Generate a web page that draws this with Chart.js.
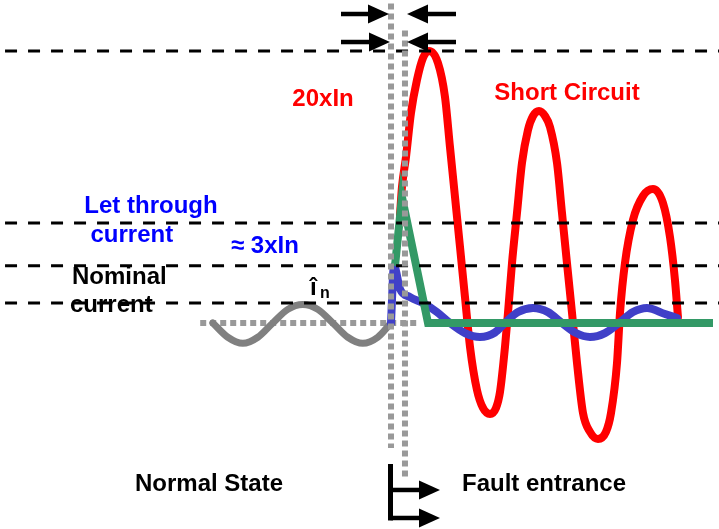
<!DOCTYPE html>
<html>
<head>
<meta charset="utf-8">
<script src="https://cdn.jsdelivr.net/npm/chart.js@4/dist/chart.umd.min.js"></script>
<style>
  html, body { margin: 0; padding: 0; background: #ffffff; }
  #wrap { width: 719px; height: 529px; position: relative; }
</style>
</head>
<body>
<div id="wrap"><canvas id="c"></canvas></div>
<script>
// Time in ms (fault begins at t = 0), current in multiples of In (schematic)

// Normal-state current before the fault
const normalT = [-29.7, -27.2, -24.7, -22.2, -19.7, -17.2, -14.7, -12.2, -9.7, -7.2, -4.7, -2.2, 0];
const normalI = [0, -1.05, -1.5, -1.05, 0, 1.0, 1.35, 1.0, 0, -1.05, -1.5, -1.05, 0];

// Prospective short-circuit current (its rise is hidden behind the let-through envelope)
const shortT = [1.5, 1.83, 2.5, 3.33, 4.33, 5.33, 6.33, 7.83, 9.0, 9.83, 10.67, 11.5,
                12.33, 13.17, 14.33, 15.33, 16.5, 17.5, 18.17, 19.0, 19.5, 20.17, 21.0, 21.83,
                22.83, 23.67, 24.67, 25.67, 26.5, 27.67, 28.5, 29.33, 30.17, 31.0, 32.0, 33.17,
                34.5, 35.83, 36.67, 37.67, 38.17, 39.0, 40.33, 42.0, 43.67, 45.33, 46.5, 47.33, 47.83];
const shortI = [7.94, 10.0, 12.21, 15.44, 17.87, 19.49, 20, 19.12, 16.62, 12.94, 9.26, 5.59,
                1.91, -1.76, -4.93, -6.25, -6.69, -6.25, -5.07, -1.76, 0.74, 4.41, 8.09, 11.76,
                14.19, 15.22, 15.59, 15.22, 14.41, 11.76, 8.09, 4.41, 0.74, -2.94, -6.62, -8.01,
                -8.53, -8.01, -6.62, -2.94, 0.74, 4.41, 7.57, 9.34, 9.85, 8.82, 6.32, 3.16, 0.44];

// Current actually let through by the protective device
const limitedT = [0, 0.5, 1.5, 3.17, 5.33, 7.67, 9.83, 12.33, 14.83, 17.33, 19.0, 21.17, 23.67, 26.17,
                  28.5, 30.83, 33.17, 35.67, 38.0, 40.33, 42.67, 45.67, 47.67];
const limitedI = [0, 4.2, 2.5, 1.9, 1.47, 0.8, 0, -0.74, -1.03, -0.7, 0, 0.8, 1.1, 0.8,
                  0, -0.74, -1.03, -0.74, 0, 0.8, 1.1, 0.66, 0.37];

// Envelope of the let-through current
const envelopeT = [0.67, 1.83, 6.17, 53.67];
const envelopeI = [4.2, 9.26, 0, 0];

// Reference current levels (dashed lines)
const levelValues = [20, 7.35, 4.2, 1.47];

// Fault instants (dotted verticals)
const faultT = [0, 2.33];

const RED = '#ff0000', BLUE_TXT = '#0000ff', BLUE = '#4040c8', GREEN = '#339966';
const GRAY = '#808080', DOT = '#999999';

const zip = (xs, ys) => xs.map((v, i) => ({ x: v, y: ys[i] }));

const X_MIN = -65.17, X_MAX = 54.67, Y_MIN = -15.15, Y_MAX = 23.75;

const datasets = [];

// vertical dotted fault markers (drawn on top)
datasets.push({
  data: [{ x: faultT[0], y: 23.5 }, { x: faultT[0], y: -9.2 }],
  borderColor: DOT, borderWidth: 6, borderDash: [6, 4], pointRadius: 0, showLine: true, tension: 0
});
datasets.push({
  data: [{ x: faultT[1], y: 21.5 }, { x: faultT[1], y: -11.3 }],
  borderColor: DOT, borderWidth: 6, borderDash: [6, 4], pointRadius: 0, showLine: true, tension: 0
});

// dashed reference levels
levelValues.forEach(v => {
  datasets.push({
    data: [{ x: -64.33, y: v }, { x: X_MAX, y: v }],
    borderColor: '#000000', borderWidth: 3, borderDash: [12, 11], pointRadius: 0, showLine: true, tension: 0
  });
});

datasets.push({
  data: zip(envelopeT, envelopeI),
  borderColor: GREEN, borderWidth: 8, pointRadius: 0, showLine: true, tension: 0,
  borderJoinStyle: 'miter', borderCapStyle: 'butt'
});
datasets.push({
  data: zip(limitedT, limitedI),
  borderColor: BLUE, borderWidth: 8, pointRadius: 0, showLine: true,
  cubicInterpolationMode: 'monotone', borderCapStyle: 'round', borderJoinStyle: 'round'
});
datasets.push({
  data: zip(normalT, normalI),
  borderColor: GRAY, borderWidth: 7, pointRadius: 0, showLine: true,
  cubicInterpolationMode: 'monotone', borderCapStyle: 'round', borderJoinStyle: 'round'
});
datasets.push({
  data: zip(shortT, shortI),
  borderColor: RED, borderWidth: 8, pointRadius: 0, showLine: true,
  cubicInterpolationMode: 'monotone', borderCapStyle: 'round', borderJoinStyle: 'round'
});
// dotted zero line of the normal state (drawn underneath)
datasets.push({
  data: [{ x: -31.8, y: 0 }, { x: 4.83, y: 0 }],
  borderColor: DOT, borderWidth: 6, borderDash: [6, 4], pointRadius: 0, showLine: true, tension: 0
});

// Text labels, placed in chart units
const labels = [
  { text: '20xIn', x: -11.33, y: 16.47, color: RED, align: 'center' },
  { text: 'Short Circuit', x: 29.33, y: 16.9, color: RED, align: 'center' },
  { text: 'Let through', x: -40.0, y: 8.6, color: BLUE_TXT, align: 'center' },
  { text: 'current', x: -43.2, y: 6.47, color: BLUE_TXT, align: 'center' },
  { text: '\u2248 3xIn', x: -26.67, y: 5.6, color: BLUE_TXT, align: 'left' },
  { text: 'Nominal', x: -53.17, y: 3.38, color: '#000000', align: 'left' },
  { text: 'current', x: -53.5, y: 1.32, color: '#000000', align: 'left' },
  { text: 'Normal State', x: -30.33, y: -11.84, color: '#000000', align: 'center' },
  { text: 'Fault entrance', x: 25.5, y: -11.84, color: '#000000', align: 'center' }
];

// Arrows: [fromX, fromY, tipX, tipY]
const arrows = [
  [-8.33, 22.72, -0.33, 22.72],
  [10.83, 22.72, 2.67, 22.72],
  [-8.33, 20.66, -0.17, 20.66],
  [10.83, 20.66, 2.67, 20.66],
  [-0.08, -12.28, 8.17, -12.28],
  [-0.08, -14.34, 8.17, -14.34]
];

function drawArrow(ctx, x0, y0, x1, y1, lw, headLen, headHalf) {
  const ang = Math.atan2(y1 - y0, x1 - x0);
  const bx = x1 - Math.cos(ang) * headLen, by = y1 - Math.sin(ang) * headLen;
  ctx.beginPath();
  ctx.lineWidth = lw;
  ctx.lineCap = 'butt';
  ctx.moveTo(x0, y0);
  ctx.lineTo(bx + Math.cos(ang), by + Math.sin(ang));
  ctx.stroke();
  ctx.beginPath();
  ctx.moveTo(x1, y1);
  ctx.lineTo(bx - Math.sin(ang) * headHalf, by + Math.cos(ang) * headHalf);
  ctx.lineTo(bx + Math.sin(ang) * headHalf, by - Math.cos(ang) * headHalf);
  ctx.closePath();
  ctx.fill();
}

const overlay = {
  id: 'overlay',
  afterDatasetsDraw(chart) {
    const { ctx, scales: { x, y } } = chart;
    ctx.save();
    ctx.strokeStyle = '#000000';
    ctx.fillStyle = '#000000';
    arrows.forEach(a => {
      drawArrow(ctx, x.getPixelForValue(a[0]), y.getPixelForValue(a[1]),
                x.getPixelForValue(a[2]), y.getPixelForValue(a[3]), 4.5, 21, 9.5);
    });
    // bracket joining the two lower arrows
    ctx.beginPath();
    ctx.lineWidth = 5;
    ctx.lineCap = 'butt';
    const bx = x.getPixelForValue(-0.08);
    ctx.moveTo(bx, y.getPixelForValue(-10.37));
    ctx.lineTo(bx, y.getPixelForValue(-14.34) + 2.5);
    ctx.stroke();

    ctx.textBaseline = 'middle';
    ctx.font = 'bold 24px "Liberation Sans", Arial, sans-serif';
    labels.forEach(l => {
      ctx.fillStyle = l.color;
      ctx.textAlign = l.align;
      ctx.fillText(l.text, x.getPixelForValue(l.x), y.getPixelForValue(l.y));
    });
    // peak of nominal current: î with subscript n
    ctx.fillStyle = '#000000';
    ctx.textAlign = 'left';
    ctx.textBaseline = 'alphabetic';
    ctx.font = 'bold 24px "Liberation Sans", Arial, sans-serif';
    ctx.fillText('\u00ee', x.getPixelForValue(-13.5), y.getPixelForValue(2.06));
    ctx.font = 'bold 16px "Liberation Sans", Arial, sans-serif';
    ctx.fillText('n', x.getPixelForValue(-11.83), y.getPixelForValue(1.84));
    ctx.restore();
  }
};

new Chart(document.getElementById('c'), {
  type: 'scatter',
  data: { datasets },
  options: {
    responsive: true,
    maintainAspectRatio: false,
    devicePixelRatio: 1,
    animation: false,
    layout: { padding: 0 },
    plugins: { legend: { display: false }, tooltip: { enabled: false } },
    scales: {
      x: { type: 'linear', display: false, min: X_MIN, max: X_MAX },
      y: { type: 'linear', display: false, min: Y_MIN, max: Y_MAX }
    }
  },
  plugins: [overlay]
});
</script>
</body>
</html>
